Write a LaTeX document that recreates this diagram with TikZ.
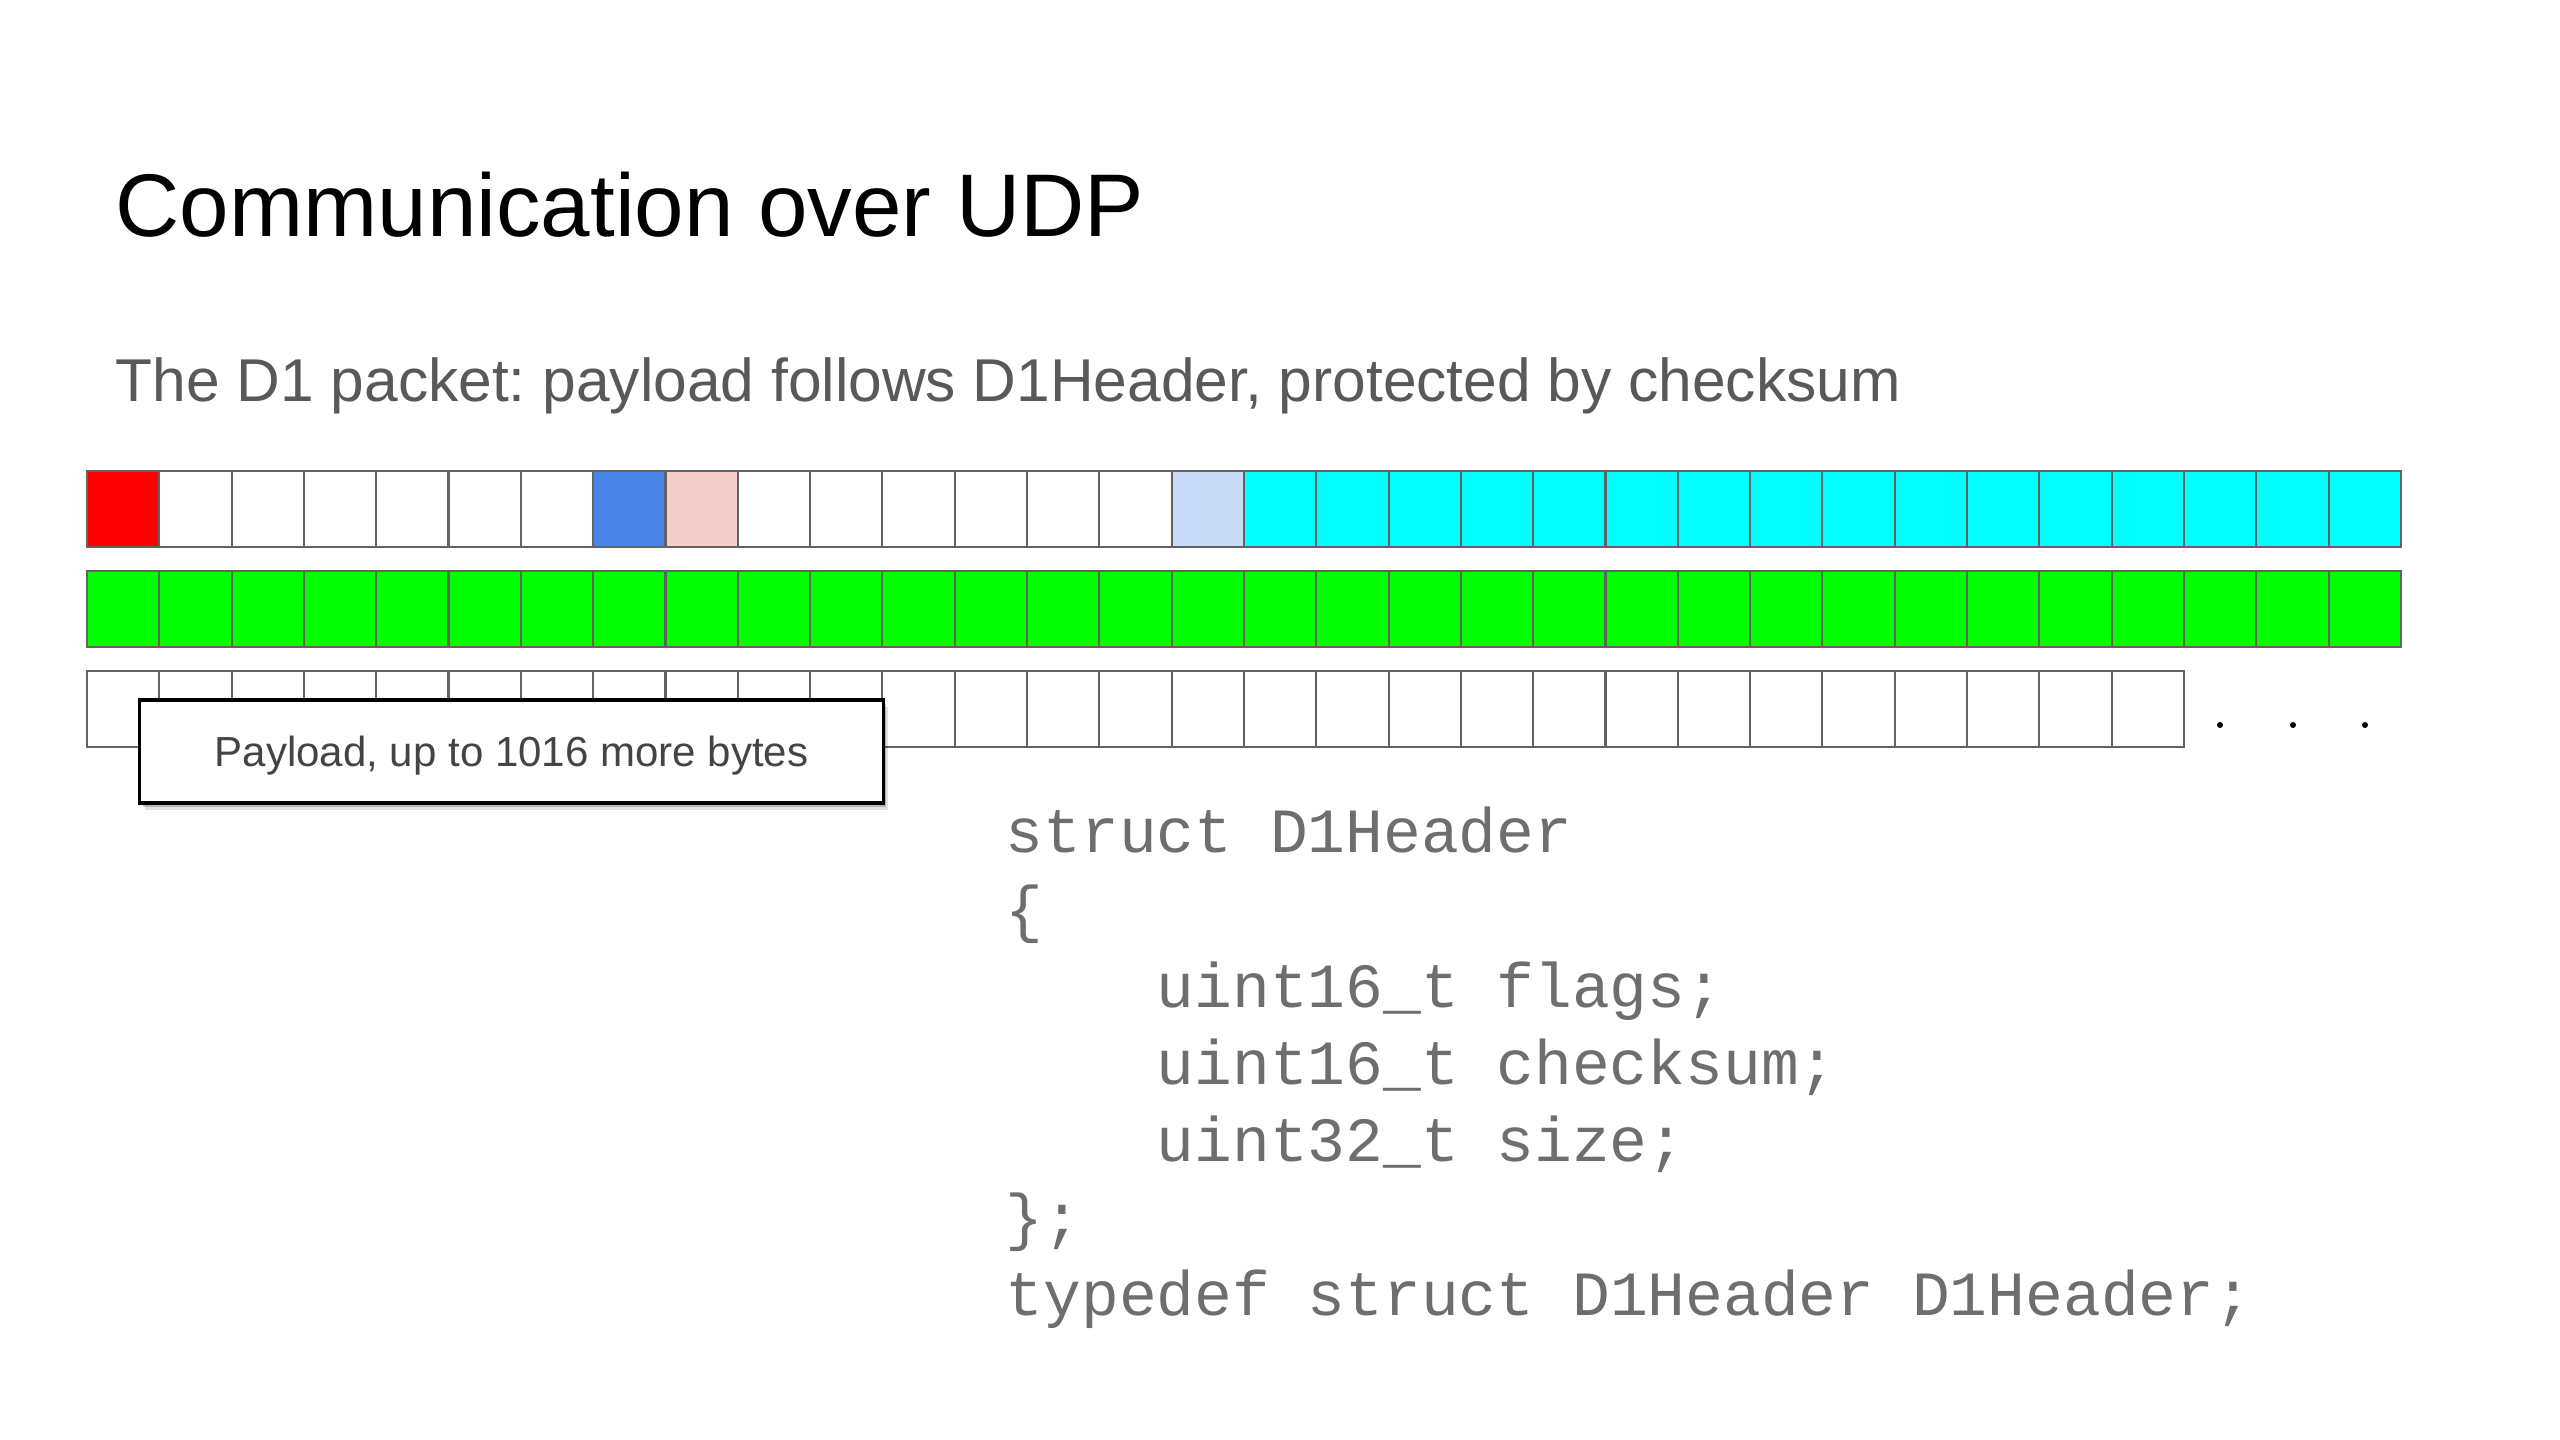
\documentclass[tikz,border=0pt]{standalone}
\usepackage{fontspec}
\setmainfont{Liberation Sans}
\newfontfamily\codefont{Liberation Mono}
\usetikzlibrary{shadows}
\frenchspacing
\definecolor{cellline}{HTML}{626262}
\definecolor{flagred}{HTML}{FF0000}
\definecolor{sumblue}{HTML}{4A86E8}
\definecolor{sumpink}{HTML}{F4CCCC}
\definecolor{sizeblue}{HTML}{C9DAF8}
\definecolor{paycyan}{HTML}{00FFFF}
\definecolor{paygreen}{HTML}{00FF00}
\definecolor{subgray}{HTML}{595959}
\definecolor{codegray}{HTML}{6E6E6E}
\definecolor{notegray}{HTML}{444444}
\tikzset{
  cellbox/.style={draw=cellline, line width=0.6pt, minimum width=0.7231cm, minimum height=0.76cm, inner sep=0pt, outer sep=0pt},
  titletext/.style={anchor=base west, inner sep=0pt, font=\fontsize{25.3pt}{30pt}\selectfont},
  subtext/.style={anchor=base west, inner sep=0pt, text=subgray, font=\fontsize{17.2pt}{21pt}\selectfont},
  codeline/.style={anchor=base west, inner sep=0pt, text=codegray, font=\codefont\fontsize{17.9pt}{22pt}\selectfont},
  notebox/.style={draw=black, line width=0.9pt, fill=white, minimum width=7.43cm, minimum height=1.03cm, inner sep=0pt, text height=0.30cm, text depth=0pt, text=notegray, font=\fontsize{11.95pt}{15pt}\selectfont,
    drop shadow={shadow xshift=0.05cm, shadow yshift=-0.07cm, fill=black, opacity=0.12},
    drop shadow={shadow xshift=0.03cm, shadow yshift=-0.04cm, fill=black, opacity=0.2}},
  dotmark/.style={circle, fill=black, inner sep=0pt, minimum size=0.06cm}
}
\begin{document}
\begin{tikzpicture}[x=0.01cm, y=-0.01cm]
\useasboundingbox[fill=white] (0,0) rectangle (2560,1440);
% title and subtitle
\node[titletext] (title) at (115,237) {Communication over UDP};
\node[subtext] (subtitle) at (115,402) {The D1 packet: payload follows D1Header, protected by checksum};
% row 1: header + start of payload
\foreach \i/\c in {0/flagred,1/white,2/white,3/white,4/white,5/white,6/white,7/sumblue,8/sumpink,9/white,10/white,11/white,12/white,13/white,14/white,15/sizeblue,16/paycyan,17/paycyan,18/paycyan,19/paycyan,20/paycyan,21/paycyan,22/paycyan,23/paycyan,24/paycyan,25/paycyan,26/paycyan,27/paycyan,28/paycyan,29/paycyan,30/paycyan,31/paycyan}
  \node[cellbox, fill=\c] (ra\i) at ({87+72.31*(\i+0.5)},509) {};
% row 2: payload
\foreach \i in {0,...,31}
  \node[cellbox, fill=paygreen] (rb\i) at ({87+72.31*(\i+0.5)},609) {};
% row 3: payload continues
\foreach \i in {0,...,28}
  \node[cellbox, fill=white] (rc\i) at ({87+72.31*(\i+0.5)},709) {};
% ellipsis
\node[dotmark] (dot1) at (2220,725) {};
\node[dotmark] (dot2) at (2293,725) {};
\node[dotmark] (dot3) at (2365,725) {};
% callout
\node[notebox] (note) at (511.5,751.5) {Payload, up to 1016 more bytes};
% code
\node[codeline] (code1) at (1005,853) {struct D1Header};
\node[codeline] (code2) at (1005,930) {\{};
\node[codeline] (code3) at (1156,1007) {uint16\_t flags;};
\node[codeline] (code4) at (1156,1084) {uint16\_t checksum;};
\node[codeline] (code5) at (1156,1161) {uint32\_t size;};
\node[codeline] (code6) at (1005,1238) {\};};
\node[codeline] (code7) at (1005,1315) {typedef struct D1Header D1Header;};
\end{tikzpicture}
\end{document}
